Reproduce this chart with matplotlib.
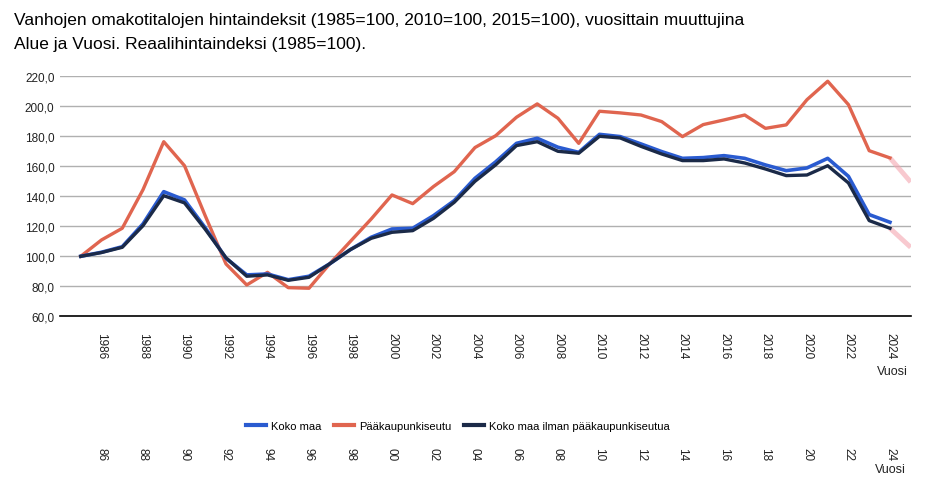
import matplotlib.pyplot as plt
import numpy as np

years = list(range(1985, 2025))

# Koko maa
koko_maa = [100, 102.7, 106.4, 121.6, 143.1, 137.6, 119, 98.7, 87.6, 88.2,
            84.4, 86.7, 95, 104.5, 112.7, 118.2, 118.7, 127.1, 137.1, 152,
            163, 175.3, 178.7, 172.7, 169.3, 181.3, 179.8, 174.9, 169.8, 165.3,
            165.8, 167.1, 165.3, 160.9, 157.1, 158.9, 165.3, 153.3, 127.8, 122.7]

# Pääkaupunkiseutu
pk_seutu = [100, 110.9, 118.7, 144.4, 176.4, 160.4, 127, 94.9, 80.9, 89.3,
            79.1, 78.7, 95, 110, 124.9, 140.9, 135.1, 146.5, 156.4, 172.5,
            180.4, 192.7, 201.6, 192, 175.3, 196.7, 195.6, 194.2, 189.8, 179.8,
            187.8, 190.9, 194.2, 185.3, 187.6, 204.4, 216.7, 201.1, 170.4, 165.6]

# Koko maa ilman pääkaupunkiseutua
muu_maa = [100, 102.5, 106, 120.4, 140.4, 135.6, 118, 99, 86.7, 87.6,
           84, 86, 95, 104.5, 112, 116, 117.1, 125.3, 136, 150,
           161, 173.8, 176.4, 170, 168.7, 180, 178.9, 173.3, 168.2, 163.8,
           163.8, 164.9, 162.2, 158.2, 153.8, 154.2, 160.4, 148.9, 123.8, 118.7]

# faint extension past the last year
ext_years = [2024, 2025]
ext_pk = [165.6, 149.5]
ext_muu = [118.7, 106]

tick_years = list(range(1986, 2025, 2))
yticks = list(range(60, 221, 20))

plt.rcParams['font.family'] = ['Liberation Sans', 'DejaVu Sans']
narrow = ['Liberation Sans Narrow', 'Liberation Sans', 'DejaVu Sans']

fig = plt.figure(figsize=(9.51, 4.81), dpi=100)
ax = fig.add_axes([60 / 951, 1 - 317.3 / 481, 850.7 / 951, 240 / 481])

ax.plot(years, pk_seutu, color='#e0654f', lw=2.4, label='Pääkaupunkiseutu', zorder=3)
ax.plot(years, koko_maa, color='#2a5bd0', lw=2.6, label='Koko maa', zorder=4)
ax.plot(years, muu_maa, color='#1b2a48', lw=2.4, label='Koko maa ilman pääkaupunkiseutua', zorder=5)
ax.plot(ext_years, ext_pk, color='#f4a5b0', lw=3.5, alpha=0.6, solid_capstyle='butt', zorder=2)
ax.plot(ext_years, ext_muu, color='#f4a5b0', lw=3.5, alpha=0.6, solid_capstyle='butt', zorder=2)

ax.set_xlim(1984, 2025)
ax.set_ylim(60, 220)
ax.set_yticks(yticks)
ax.set_yticklabels([f'{v},0' for v in yticks], fontsize=8.5, color='#222222')
ax.set_xticks(tick_years)
ax.set_xticklabels([str(y) for y in tick_years], rotation=270, fontsize=8.5,
                   color='#222222', va='top', ha='center')
ax.tick_params(axis='both', length=0)
ax.tick_params(axis='x', pad=11)
ax.tick_params(axis='y', pad=4)
ax.grid(axis='y', color='#b0b0b0', lw=1)
ax.set_axisbelow(True)
for s in ['top', 'right', 'left']:
    ax.spines[s].set_visible(False)
ax.spines['bottom'].set_color('black')
ax.spines['bottom'].set_linewidth(1.2)
ax.spines['bottom'].set_zorder(6)

fig.text(892 / 951, 1 - 372 / 481, 'Vuosi', fontsize=9, family=narrow,
         ha='center', va='center', color='#222222')

# second, short-label year row under the legend
ax2 = fig.add_axes([60 / 951, 1 - 448 / 481, 850.7 / 951, 0.001])
ax2.set_xlim(1984, 2025)
ax2.set_yticks([])
ax2.set_xticks(tick_years)
ax2.set_xticklabels([str(y)[2:] for y in tick_years], rotation=270, fontsize=8.5,
                    color='#222222', va='top', ha='center')
ax2.tick_params(axis='x', length=0, pad=0)
for s in ax2.spines.values():
    s.set_visible(False)
fig.text(890 / 951, 1 - 470 / 481, 'Vuosi', fontsize=9, family=narrow,
         ha='center', va='center', color='#222222')

handles, labels = ax.get_legend_handles_labels()
order = [1, 0, 2]
leg = fig.legend([handles[i] for i in order], [labels[i] for i in order],
                 loc='center', bbox_to_anchor=(458 / 951, 1 - 427 / 481),
                 ncol=3, frameon=False, handlelength=1.8, handletextpad=0.4,
                 columnspacing=1.2, prop={'family': narrow, 'size': 8})
for line in leg.get_lines():
    line.set_linewidth(3)

fig.text(14 / 951, 1 - 20 / 481,
         'Vanhojen omakotitalojen hintaindeksit (1985=100, 2010=100, 2015=100), vuosittain muuttujina',
         fontsize=12.5, ha='left', va='center', color='black')
fig.text(14 / 951, 1 - 44 / 481, 'Alue ja Vuosi. Reaalihintaindeksi (1985=100).',
         fontsize=12.5, ha='left', va='center', color='black')

fig.savefig('out.png', dpi=100)
